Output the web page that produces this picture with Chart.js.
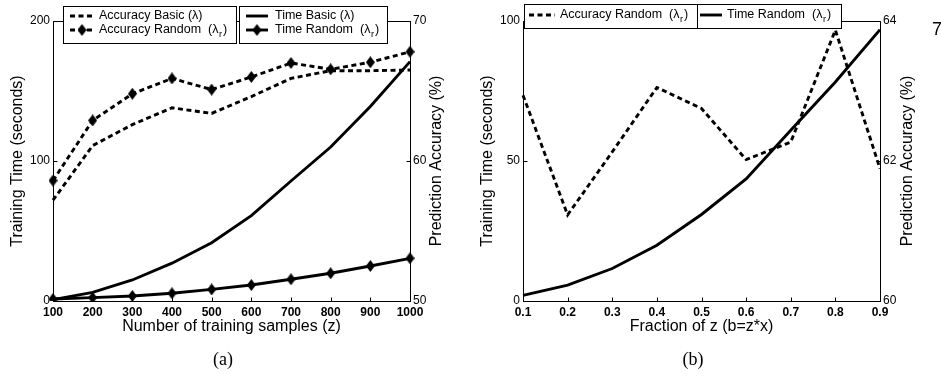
<!DOCTYPE html>
<html><head><meta charset="utf-8">
<script src="https://cdn.jsdelivr.net/npm/chart.js@4.4.0/dist/chart.umd.min.js"></script>
<style>
html,body{margin:0;padding:0;background:#fff;width:941px;height:376px;overflow:hidden;}
#wrapA{position:absolute;left:0;top:0;width:470px;height:376px;}
#wrapB{position:absolute;left:470px;top:0;width:471px;height:376px;}
.cap{position:absolute;top:350px;width:40px;text-align:center;font-family:"Liberation Serif",serif;font-size:18px;line-height:18px;color:#000;}
</style></head><body>
<div id="wrapA"><canvas id="cA" width="470" height="376"></canvas></div>
<div id="wrapB"><canvas id="cB" width="471" height="376"></canvas></div>
<div class="cap" style="left:203px">(a)</div>
<div class="cap" style="left:673px">(b)</div>
<script>
// ---------- data ----------
const samplesZ = ['100','200','300','400','500','600','700','800','900','1000'];
const accBasicA  = [57.2, 61.1, 62.6, 63.8, 63.4, 64.6, 65.9, 66.45, 66.45, 66.5];
const accRandomA = [58.6, 62.9, 64.8, 65.9, 65.1, 66.0, 67.0, 66.55, 67.05, 67.8];
const timeBasicA  = [1, 6.2, 15, 27, 41.6, 61, 85.7, 110, 139, 171];
const timeRandomA = [1.4, 2.4, 3.6, 5.5, 8.3, 11.4, 15.5, 19.8, 25, 30.5];

const fractions = ['0.1','0.2','0.3','0.4','0.5','0.6','0.7','0.8','0.9'];
const accRandomB  = [62.94, 61.23, 62.13, 63.05, 62.75, 62.02, 62.27, 63.87, 61.89];
const timeRandomB = [2.0, 5.7, 11.6, 19.9, 30.9, 43.6, 61, 78.2, 96.9];

const labelsA = ['Accuracy Basic (λ)', 'Accuracy Random  (λr)', 'Time Basic (λ)', 'Time Random  (λr)'];
const labelsB = ['Accuracy Random  (λr)', 'Time Random  (λr)'];
const xTitleA = 'Number of training samples (z)';
const xTitleB = 'Fraction of z (b=z*x)';
const yTitle = 'Training Time (seconds)';
const y1Title = 'Prediction Accuracy (%)';

// ---------- styling ----------
const FONT = '"Liberation Sans", Arial, sans-serif';
const LEG_FONT = '12.5px ' + FONT;
const SUB_FONT = '9px ' + FONT;

const diamond = document.createElement('canvas');
diamond.width = 9; diamond.height = 12;
(function(){const c=diamond.getContext('2d');c.fillStyle='#000';c.beginPath();c.moveTo(4.5,0);c.lineTo(9,6);c.lineTo(4.5,12);c.lineTo(0,6);c.closePath();c.fill();})();

function drawLabel(ctx, text, x, y) {
  ctx.font = LEG_FONT; ctx.textBaseline = 'middle'; ctx.textAlign = 'left'; ctx.fillStyle = '#000';
  const i = text.indexOf('λr');
  if (i < 0) { ctx.fillText(text, x, y); return; }
  const pre = text.slice(0, i + 1);
  ctx.fillText(pre, x, y);
  let w = ctx.measureText(pre).width;
  ctx.font = SUB_FONT; ctx.fillText('r', x + w + 0.5, y + 5);
  w += ctx.measureText('r').width + 1.5;
  ctx.font = LEG_FONT; ctx.fillText(text.slice(i + 2), x + w, y);
}

const framePlugin = {
  id: 'frame',
  afterDatasetsDraw(chart, args, opts) {
    const {ctx, chartArea: a, scales} = chart;
    ctx.save();
    ctx.strokeStyle = '#000'; ctx.lineWidth = 1; ctx.setLineDash([]);
    const L = Math.round(a.left) + 0.5, R = Math.round(a.right) + 0.5, T = Math.round(a.top) + 0.5, B = Math.round(a.bottom) + 0.5;
    ctx.beginPath();
    ctx.rect(L, T, R - L, B - T);
    scales.x.ticks.forEach((t, i) => {
      const px = Math.round(scales.x.getPixelForTick(i)) + 0.5;
      ctx.moveTo(px, B); ctx.lineTo(px, B - 4);
      ctx.moveTo(px, T); ctx.lineTo(px, T + 4);
    });
    scales.y.ticks.forEach(t => {
      const py = Math.round(scales.y.getPixelForValue(t.value)) + 0.5;
      ctx.moveTo(L, py); ctx.lineTo(L + 4, py);
    });
    scales.y1.ticks.forEach(t => {
      const py = Math.round(scales.y1.getPixelForValue(t.value)) + 0.5;
      ctx.moveTo(R, py); ctx.lineTo(R - 4, py);
    });
    ctx.stroke();
    ctx.restore();
    // right axis title (reads bottom-to-top)
    ctx.save();
    ctx.translate(opts.rightTitleX, (a.top + a.bottom) / 2);
    ctx.rotate(-Math.PI / 2);
    ctx.font = '16px ' + FONT; ctx.fillStyle = '#000'; ctx.textAlign = 'center'; ctx.textBaseline = 'middle';
    ctx.fillText(y1Title, 0, 0);
    ctx.restore();
    if (opts.extraText) {
      ctx.save();
      ctx.font = opts.extraText.font; ctx.fillStyle = '#000'; ctx.textAlign = 'left'; ctx.textBaseline = 'alphabetic';
      ctx.fillText(opts.extraText.text, opts.extraText.x, opts.extraText.y);
      ctx.restore();
    }
  }
};

const boxLegend = {
  id: 'boxLegend',
  afterDraw(chart, args, opts) {
    const ctx = chart.ctx;
    opts.boxes.forEach(b => {
      ctx.save();
      ctx.fillStyle = '#fff'; ctx.fillRect(b.x, b.y, b.w, b.h);
      ctx.strokeStyle = '#000'; ctx.lineWidth = 1; ctx.setLineDash([]);
      ctx.strokeRect(b.x + 0.5, b.y + 0.5, b.w - 1, b.h - 1);
      b.items.forEach((di, row) => {
        const ds = chart.data.datasets[di];
        const cy = b.y + b.rowStart + row * b.rowGap;
        ctx.beginPath();
        ctx.setLineDash(ds.borderDash || []);
        ctx.lineWidth = ds.borderWidth; ctx.strokeStyle = ds.borderColor; ctx.lineCap = 'butt';
        ctx.moveTo(b.x + b.lineX0, cy); ctx.lineTo(b.x + b.lineX1, cy); ctx.stroke();
        ctx.setLineDash([]);
        if (ds.pointRadius > 0) {
          const cx = Math.round(b.x + (b.lineX0 + b.lineX1) / 2);
          ctx.drawImage(ds.pointStyle, cx - ds.pointStyle.width / 2, cy - ds.pointStyle.height / 2);
        }
        drawLabel(ctx, ds.label, b.x + b.textX, cy);
      });
      ctx.restore();
    });
  }
};

function scalesFor(yMax, yStep, y1Min, y1Max, y1Step, xTitle, y1Width) {
  return {
    x: {
      type: 'category', offset: false,
      grid: {display: false, drawTicks: false}, border: {display: false},
      ticks: {font: {family: FONT, size: 12, weight: 'bold'}, color: '#000', padding: 4, maxRotation: 0, autoSkip: false},
      title: {display: true, text: xTitle, font: {family: FONT, size: 16}, color: '#000', padding: {top: 0, bottom: 4}},
      afterFit(s) { s.height = 39; }
    },
    y: {
      position: 'left', min: 0, max: yMax,
      grid: {display: false, drawTicks: false}, border: {display: false},
      ticks: {stepSize: yStep, font: {family: FONT, size: 12}, color: '#000', padding: 3},
      title: {display: true, text: yTitle, font: {family: FONT, size: 16}, color: '#000', padding: {top: 8, bottom: 0}},
      afterFit(s) { s.width = 53; }
    },
    y1: {
      position: 'right', min: y1Min, max: y1Max,
      grid: {display: false, drawTicks: false}, border: {display: false},
      ticks: {stepSize: y1Step, font: {family: FONT, size: 12}, color: '#000', padding: 3},
      title: {display: false},
      afterFit(s) { s.width = y1Width; }
    }
  };
}

const common = {
  responsive: false, animation: false, devicePixelRatio: 1, events: [],
  layout: {padding: {left: 0, right: 0, top: 21, bottom: 36}},
  elements: {line: {tension: 0, fill: false}},
};

const dashed = [5, 3.5];
const LW = 2.9;

new Chart(document.getElementById('cA'), {
  type: 'line',
  data: {
    labels: samplesZ,
    datasets: [
      {label: labelsA[0], data: accBasicA, yAxisID: 'y1', borderColor: '#000', borderWidth: LW, borderDash: dashed, pointRadius: 0},
      {label: labelsA[1], data: accRandomA, yAxisID: 'y1', borderColor: '#000', borderWidth: LW, borderDash: dashed, pointRadius: 5, pointStyle: diamond},
      {label: labelsA[2], data: timeBasicA, yAxisID: 'y', borderColor: '#000', borderWidth: LW, pointRadius: 0},
      {label: labelsA[3], data: timeRandomA, yAxisID: 'y', borderColor: '#000', borderWidth: LW, pointRadius: 5, pointStyle: diamond}
    ]
  },
  options: Object.assign({}, common, {
    scales: scalesFor(200, 100, 50, 70, 10, xTitleA, 60),
    plugins: {
      legend: {display: false}, tooltip: {enabled: false},
      frame: {rightTitleX: 437},
      boxLegend: {boxes: [
        {x: 63, y: 6, w: 174, h: 38, rowStart: 10, rowGap: 14, lineX0: 7, lineX1: 31, textX: 36, items: [0, 1]},
        {x: 239, y: 6, w: 149, h: 38, rowStart: 10, rowGap: 14, lineX0: 7, lineX1: 29, textX: 36, items: [2, 3]}
      ]}
    }
  }),
  plugins: [framePlugin, boxLegend]
});

new Chart(document.getElementById('cB'), {
  type: 'line',
  data: {
    labels: fractions,
    datasets: [
      {label: labelsB[0], data: accRandomB, yAxisID: 'y1', borderColor: '#000', borderWidth: LW, borderDash: dashed, pointRadius: 0},
      {label: labelsB[1], data: timeRandomB, yAxisID: 'y', borderColor: '#000', borderWidth: LW, pointRadius: 0}
    ]
  },
  options: Object.assign({}, common, {
    scales: scalesFor(100, 50, 60, 64, 2, xTitleB, 61),
    plugins: {
      legend: {display: false}, tooltip: {enabled: false},
      frame: {rightTitleX: 438, extraText: {text: '7', x: 462, y: 35, font: '18px ' + FONT}},
      boxLegend: {boxes: [
        {x: 54, y: 4, w: 174, h: 25, rowStart: 11, rowGap: 14, lineX0: 5, lineX1: 31, textX: 36, items: [0]},
        {x: 227, y: 4, w: 145, h: 25, rowStart: 11, rowGap: 14, lineX0: 3, lineX1: 25, textX: 30, items: [1]}
      ]}
    }
  }),
  plugins: [framePlugin, boxLegend]
});
</script>
</body></html>
